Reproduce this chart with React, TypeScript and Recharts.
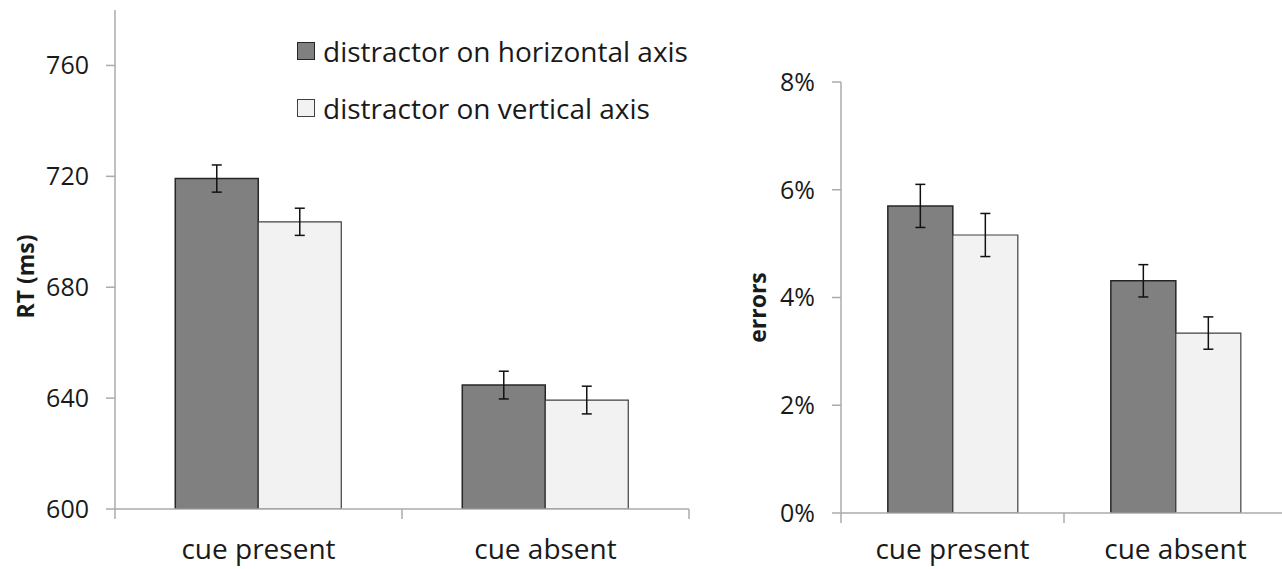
import { BarChart, Bar, XAxis, YAxis, ErrorBar, Legend, Label } from 'recharts';

const categories = ['cue present', 'cue absent'];
const seriesNames = ['distractor on horizontal axis', 'distractor on vertical axis'];

// reaction times (ms) with error bars
const rtHorizontal = [719.2, 644.7];
const rtVertical = [703.6, 639.3];
const rtHorizontalErr = [4.9, 5];
const rtVerticalErr = [4.9, 5];

// error rates (fraction) with error bars
const errHorizontal = [0.057, 0.0431];
const errVertical = [0.0516, 0.0334];
const errHorizontalSe = [0.004, 0.003];
const errVerticalSe = [0.004, 0.003];

const rtTicks = [600, 640, 680, 720, 760];
const errTicks = [0, 0.02, 0.04, 0.06, 0.08];

const rtData = categories.map((c, i) => ({
  name: c,
  h: rtHorizontal[i],
  v: rtVertical[i],
  hErr: rtHorizontalErr[i],
  vErr: rtVerticalErr[i],
}));

const errData = categories.map((c, i) => ({
  name: c,
  h: errHorizontal[i],
  v: errVertical[i],
  hErr: errHorizontalSe[i],
  vErr: errVerticalSe[i],
}));

const FONT = '"Open Sans", Lato, sans-serif';
const AXIS = '#ababab';
const TEXT = '#1a1a1a';
const DARK = '#808080';
const DARK_EDGE = '#262626';
const LIGHT = '#f2f2f2';
const LIGHT_EDGE = '#404040';

const tickStyle = { fontSize: 25, fill: TEXT, fontFamily: FONT };

function axisTitle(text: string, dx: number, dy: number) {
  return (props: any) => {
    const vb = props.viewBox || { x: 0, y: 0, width: 0, height: 0 };
    const x = vb.x + dx;
    const y = vb.y + vb.height / 2 + dy;
    return (
      <text
        x={x}
        y={y}
        transform={`rotate(-90, ${x}, ${y})`}
        textAnchor="middle"
        dominantBaseline="central"
        fontFamily={FONT}
        fontSize={23}
        fontWeight="bold"
        fill={TEXT}
      >
        {text}
      </text>
    );
  };
}

// category label plus the boundary tick marks between categories
function makeCatTick(band: number, labelOffset: number) {
  return (props: any) => {
    const { x, y, payload, index, visibleTicksCount } = props;
    const half = band / 2;
    const last = index === (visibleTicksCount ?? categories.length) - 1;
    return (
      <g>
        <line x1={x - half} y1={y} x2={x - half} y2={y + 10} stroke={AXIS} strokeWidth={1.5} />
        {last && <line x1={x + half} y1={y} x2={x + half} y2={y + 10} stroke={AXIS} strokeWidth={1.5} />}
        <text x={x} y={y + labelOffset} textAnchor="middle" fontFamily={FONT} fontSize={28} fill={TEXT}>
          {payload.value}
        </text>
      </g>
    );
  };
}

function LegendBox(props: any) {
  const items = props.payload || [];
  return (
    <div style={{ fontFamily: FONT, fontSize: 28, color: TEXT }}>
      {items.map((it: any, i: number) => (
        <div key={i} style={{ display: 'flex', alignItems: 'center', height: 57 }}>
          <span
            style={{
              width: 16,
              height: 16,
              background: i === 0 ? DARK : LIGHT,
              border: `1.5px solid ${i === 0 ? DARK_EDGE : LIGHT_EDGE}`,
              marginRight: 8,
              display: 'inline-block',
            }}
          />
          <span>{it.value}</span>
        </div>
      ))}
    </div>
  );
}

function Panel(props: {
  data: any[];
  domain: [number, number];
  ticks: number[];
  fmt: (v: number) => string;
  width: number;
  top: number;
  right: number;
  axisWidth: number;
  catHeight: number;
  labelOffset: number;
  title: string;
  titleDx: number;
  titleDy: number;
  legend?: boolean;
}) {
  const band = (props.width - props.axisWidth - props.right) / props.data.length;
  return (
    <BarChart
      width={props.width}
      height={569}
      data={props.data}
      margin={{ top: props.top, right: props.right, bottom: 0, left: 0 }}
      barCategoryGap="21%"
      barGap={0}
    >
      <XAxis
        dataKey="name"
        height={props.catHeight}
        stroke={AXIS}
        strokeWidth={1.5}
        tickLine={false}
        tickSize={0}
        tickMargin={0}
        tick={makeCatTick(band, props.labelOffset)}
      />
      <YAxis
        width={props.axisWidth}
        domain={props.domain}
        ticks={props.ticks}
        allowDataOverflow
        tickFormatter={props.fmt}
        tickSize={9}
        tickMargin={17}
        tick={tickStyle}
        stroke={AXIS}
        strokeWidth={1.5}
      >
        <Label content={axisTitle(props.title, props.titleDx, props.titleDy)} />
      </YAxis>
      {props.legend && (
        <Legend
          layout="vertical"
          align="center"
          verticalAlign="middle"
          content={<LegendBox />}
          wrapperStyle={{ left: 297, top: 22, width: 420 }}
        />
      )}
      <Bar
        dataKey="h"
        name={seriesNames[0]}
        fill={DARK}
        stroke={DARK_EDGE}
        strokeWidth={1.5}
        isAnimationActive={false}
      >
        <ErrorBar dataKey="hErr" width={5} stroke="#111" strokeWidth={1.5} />
      </Bar>
      <Bar
        dataKey="v"
        name={seriesNames[1]}
        fill={LIGHT}
        stroke={LIGHT_EDGE}
        strokeWidth={1.2}
        isAnimationActive={false}
      >
        <ErrorBar dataKey="vErr" width={5} stroke="#111" strokeWidth={1.5} />
      </Bar>
    </BarChart>
  );
}

export default function App() {
  return (
    <div
      style={{
        position: 'absolute',
        left: 0,
        top: 0,
        width: 1282,
        height: 569,
        overflow: 'hidden',
        background: '#fff',
      }}
    >
      <div style={{ position: 'absolute', left: 0, top: 0 }}>
        <Panel
          data={rtData}
          domain={[600, 780]}
          ticks={rtTicks}
          fmt={(v) => String(v)}
          width={700}
          top={10}
          right={11}
          axisWidth={115}
          catHeight={60}
          labelOffset={50}
          title="RT (ms)"
          titleDx={25}
          titleDy={17}
          legend
        />
      </div>
      <div style={{ position: 'absolute', left: 740, top: 0 }}>
        <Panel
          data={errData}
          domain={[0, 0.08]}
          ticks={errTicks}
          fmt={(v) => `${Math.round(v * 100)}%`}
          width={547}
          top={82}
          right={0}
          axisWidth={101}
          catHeight={56}
          labelOffset={46}
          title="errors"
          titleDx={17}
          titleDy={10}
        />
      </div>
    </div>
  );
}
